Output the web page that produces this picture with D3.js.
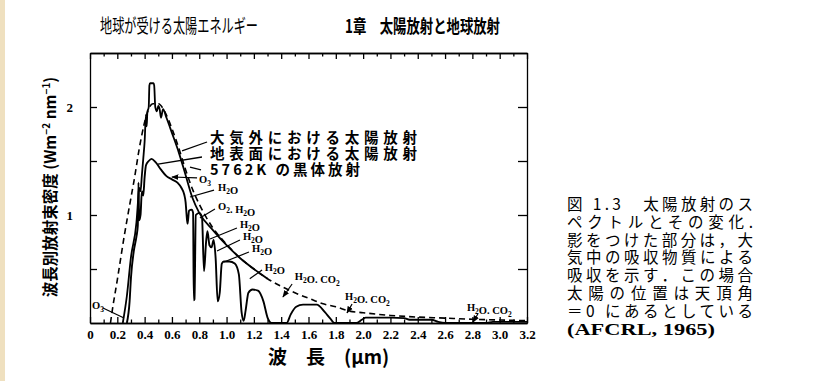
<!DOCTYPE html>
<html>
<head>
<meta charset="utf-8">
<script src="https://cdn.jsdelivr.net/npm/d3@7"></script>
<style>
body { margin: 0; background: #fff; }
svg { display: block; }
</style>
</head>
<body>
<div id="chart"></div>
<script>
'use strict';

// solar spectra (wavelength in um, W m-2 nm-1)
var extraWl  = [0.24, 0.27, 0.30, 0.34, 0.355, 0.36, 0.37, 0.38, 0.39, 0.40, 0.41, 0.415, 0.42, 0.43, 0.435, 0.44, 0.465, 0.47, 0.478, 0.49, 0.50, 0.51, 0.52, 0.535, 0.56, 0.60, 0.65, 0.70, 0.75, 0.80, 0.90, 1.00, 1.10, 1.20, 1.30];
var extraVal = [0, 0.25, 0.61, 0.93, 1.18, 1.25, 1.22, 1.37, 1.52, 1.68, 1.93, 1.82, 1.95, 2.0, 2.2, 2.22, 2.22, 2.2, 2.0, 1.96, 2.01, 1.98, 1.9, 1.98, 1.9, 1.76, 1.58, 1.37, 1.16, 1.02, 0.86, 0.72, 0.6, 0.5, 0.41];

var bodyWl  = [0.15, 0.16, 0.20, 0.25, 0.30, 0.32, 0.37, 0.42, 0.46, 0.50, 0.55, 0.60, 0.65, 0.70, 0.75, 0.80, 0.90, 1.00, 1.10, 1.20, 1.30, 1.40, 1.50, 1.60, 1.70, 1.80, 1.90, 2.00, 2.20, 2.40, 2.60, 2.80, 3.00, 3.20];
var bodyVal = [0, 0.09, 0.4, 0.8, 1.16, 1.3, 1.68, 1.95, 2.03, 2.03, 1.95, 1.8, 1.62, 1.42, 1.24, 1.1, 0.88, 0.73, 0.6, 0.5, 0.41, 0.34, 0.28, 0.23, 0.18, 0.15, 0.11, 0.095, 0.07, 0.055, 0.045, 0.035, 0.028, 0.022];

var groundWl  = [0.27, 0.29, 0.30, 0.32, 0.34, 0.35, 0.355, 0.36, 0.37, 0.38, 0.39, 0.40, 0.41, 0.43, 0.45, 0.48, 0.52, 0.56, 0.60, 0.64, 0.67, 0.69, 0.70, 0.71, 0.715, 0.725, 0.745, 0.755, 0.76, 0.765, 0.775, 0.80, 0.82, 0.835, 0.85, 0.86, 0.875, 0.89, 0.905, 0.92, 0.935, 0.95, 0.965, 0.98, 1.02, 1.06, 1.09, 1.11, 1.125, 1.14, 1.16, 1.19, 1.23, 1.27, 1.30, 1.33, 1.44, 1.47, 1.51, 1.56, 1.66, 1.72, 1.76, 1.79, 1.95, 1.99, 2.02, 2.20, 2.30, 2.34, 2.50, 2.55, 2.60, 2.90, 2.95, 3.20];
var groundVal = [0, 0.2, 0.42, 0.66, 0.8, 0.9, 1.3, 0.95, 1.0, 1.22, 1.18, 1.35, 1.46, 1.5, 1.52, 1.49, 1.42, 1.36, 1.33, 1.3, 1.25, 1.19, 1.12, 0.96, 0.92, 1.04, 1.05, 1.02, 0.21, 0.22, 1.0, 1.02, 0.98, 0.48, 0.75, 0.85, 0.72, 0.7, 0.77, 0.6, 0.2, 0.28, 0.55, 0.57, 0.57, 0.55, 0.45, 0.1, 0.02, 0.12, 0.28, 0.31, 0.3, 0.2, 0.05, 0, 0, 0.08, 0.15, 0.17, 0.17, 0.1, 0.04, 0, 0, 0.03, 0.05, 0.05, 0.045, 0.03, 0.03, 0.01, 0, 0, 0.01, 0.01];

var xTicks = [0, 0.2, 0.4, 0.6, 0.8, 1.0, 1.2, 1.4, 1.6, 1.8, 2.0, 2.2, 2.4, 2.6, 2.8, 3.0, 3.2];
var xTickLabels = ['0', '0.2', '0.4', '0.6', '0.8', '1.0', '1.2', '1.4', '1.6', '1.8', '2.0', '2.2', '2.4', '2.6', '2.8', '3.0', '3.2'];
var xMinor = [0.1, 0.3, 0.5, 0.7, 0.9, 1.1, 1.3, 1.5, 1.7, 1.9, 2.1, 2.3, 2.5, 2.7, 2.9, 3.1];
var yTicks = [0.5, 1, 1.5, 2];
var yTickLabels = ['', '1', '', '2'];

var legendTexts = ['大気外における太陽放射', '地表面における太陽放射', '5762K の黒体放射'];
var captionLines = ['図 1.3　太陽放射のス', 'ペクトルとその変化.', '影をつけた部分は，大', '気中の吸収物質による', '吸収を示す．この場合', '太陽の位置は天頂角', '＝0 にあるとしている', '(AFCRL, 1965)'];

var width = 826, height = 381;

var svg = d3.select('#chart').append('svg')
    .attr('width', width)
    .attr('height', height);

// beige scan edge
svg.append('rect').attr('x', 0).attr('y', 0).attr('width', 5).attr('height', height).attr('fill', '#efe0bf');

var x = d3.scaleLinear().domain([0, 3.2]).range([90, 527]);
var y = d3.scaleLinear().domain([0, 2.5]).range([323, 53]);

var serif = '"Liberation Serif", "DejaVu Serif", serif';
var jp = '"Noto Sans CJK JP", "Noto Sans", sans-serif';

// titles
svg.append('text').attr('x', 100).attr('y', 33)
    .attr('font-family', jp).attr('font-size', 19)
    .attr('textLength', 158).attr('lengthAdjust', 'spacingAndGlyphs')
    .text('地球が受ける太陽エネルギー');
svg.append('text').attr('x', 345).attr('y', 33)
    .attr('font-family', jp).attr('font-size', 18).attr('font-weight', 'bold')
    .attr('textLength', 155).attr('lengthAdjust', 'spacingAndGlyphs')
    .text('1章　太陽放射と地球放射');

// axes
function styleAxis(g) {
    g.selectAll('path, line').attr('stroke', '#000').attr('stroke-width', 1.3);
    g.selectAll('text').attr('font-family', serif).attr('font-size', 13)
        .attr('font-weight', 'bold').attr('fill', '#000');
}

svg.append('g').attr('transform', 'translate(0,' + y(0) + ')')
    .call(d3.axisBottom(x).tickValues(xTicks)
        .tickFormat(function(d, i) { return xTickLabels[i]; })
        .tickSizeInner(-6).tickSizeOuter(0).tickPadding(7))
    .call(styleAxis);
svg.append('g').attr('transform', 'translate(0,' + y(0) + ')')
    .call(d3.axisBottom(x).tickValues(xMinor).tickFormat('')
        .tickSizeInner(-3.5).tickSizeOuter(0))
    .call(styleAxis);
svg.append('g').attr('transform', 'translate(0,' + y(2.5) + ')')
    .call(d3.axisTop(x).tickValues(xTicks).tickFormat('')
        .tickSizeInner(-6).tickSizeOuter(0))
    .call(styleAxis);
svg.append('g').attr('transform', 'translate(0,' + y(2.5) + ')')
    .call(d3.axisTop(x).tickValues(xMinor).tickFormat('')
        .tickSizeInner(-3.5).tickSizeOuter(0))
    .call(styleAxis);
svg.append('g').attr('transform', 'translate(' + x(0) + ',0)')
    .call(d3.axisLeft(y).tickValues(yTicks)
        .tickFormat(function(d, i) { return yTickLabels[i]; })
        .tickSizeInner(-7).tickSizeOuter(0).tickPadding(17))
    .call(styleAxis);
svg.append('g').attr('transform', 'translate(' + x(3.2) + ',0)')
    .call(d3.axisRight(y).tickValues(yTicks).tickFormat('')
        .tickSizeInner(-9).tickSizeOuter(0))
    .call(styleAxis);

// curves
var line = d3.line()
    .x(function(d) { return x(d[0]); })
    .y(function(d) { return y(d[1]); })
    .curve(d3.curveMonotoneX);

function pairs(wl, val) {
    return wl.map(function(w, i) { return [w, val[i]]; });
}

svg.append('path').datum(pairs(bodyWl, bodyVal))
    .attr('d', line).attr('fill', 'none').attr('stroke', '#000')
    .attr('stroke-width', 1.6).attr('stroke-dasharray', '6,4');
svg.append('path').datum(pairs(extraWl, extraVal))
    .attr('d', line).attr('fill', 'none').attr('stroke', '#000')
    .attr('stroke-width', 1.8);
svg.append('path').datum(pairs(groundWl, groundVal))
    .attr('d', line).attr('fill', 'none').attr('stroke', '#000')
    .attr('stroke-width', 1.9);

// arrow marker
svg.append('defs').append('marker')
    .attr('id', 'arr').attr('viewBox', '0 0 10 10')
    .attr('refX', 9).attr('refY', 5)
    .attr('markerWidth', 6).attr('markerHeight', 6)
    .attr('orient', 'auto')
    .append('path').attr('d', 'M0,1L10,5L0,9z').attr('fill', '#000');

// legend lines with leaders (positions in data units)
var legendPos = [
    {tx: 0.879, ty: 1.667, from: [0.857, 1.676], to: [0.674, 1.593]},
    {tx: 0.879, ty: 1.519, from: [0.820, 1.537], to: [0.498, 1.472]},
    {tx: 0.879, ty: 1.370, from: [0.813, 1.417], to: [0.732, 1.444]}
];
var legendLen = [207, 207, 150];

legendPos.forEach(function(p, i) {
    svg.append('line')
        .attr('x1', x(p.from[0])).attr('y1', y(p.from[1]))
        .attr('x2', x(p.to[0])).attr('y2', y(p.to[1]))
        .attr('stroke', '#000').attr('stroke-width', 1.3);
    svg.append('text')
        .attr('x', x(p.tx)).attr('y', y(p.ty))
        .attr('font-family', jp).attr('font-size', 14.5).attr('font-weight', 'bold')
        .attr('textLength', legendLen[i]).attr('lengthAdjust', 'spacing')
        .text(legendTexts[i]);
});

// absorber labels
var notes = [
    {t: 'O3', tx: 0.798, ty: 1.296, from: [0.784, 1.343], to: [0.600, 1.352], arrow: true},
    {t: 'H2O', tx: 0.937, ty: 1.222, from: [0.908, 1.231], to: [0.732, 1.167]},
    {t: 'O2. H2O', tx: 0.937, ty: 1.046, from: [0.915, 1.056], to: [0.805, 0.972]},
    {t: 'H2O', tx: 1.098, ty: 0.88, from: [1.076, 0.88], to: [0.879, 0.778]},
    {t: 'H2O', tx: 1.12, ty: 0.77, from: [1.098, 0.769], to: [0.930, 0.667]},
    {t: 'H2O', tx: 1.186, ty: 0.657, from: [1.164, 0.657], to: [0.981, 0.565]},
    {t: 'H2O', tx: 1.28, ty: 0.481, from: [1.26, 0.49], to: [1.17, 0.41]},
    {t: 'H2O. CO2', tx: 1.50, ty: 0.40, from: [1.48, 0.361], to: [1.413, 0.241], arrow: true},
    {t: 'H2O. CO2', tx: 1.867, ty: 0.213, from: [1.919, 0.176], to: [1.882, 0.093], arrow: true},
    {t: 'H2O. CO2', tx: 2.76, ty: 0.111, from: [2.84, 0.083], to: [2.805, 0.009], arrow: true},
    {t: 'O3', tx: 0.015, ty: 0.13, from: [0.095, 0.139], to: [0.249, 0.046]}
];

notes.forEach(function(n) {
    var l = svg.append('line')
        .attr('x1', x(n.from[0])).attr('y1', y(n.from[1]))
        .attr('x2', x(n.to[0])).attr('y2', y(n.to[1]))
        .attr('stroke', '#000').attr('stroke-width', 1.2);
    if (n.arrow) l.attr('marker-end', 'url(#arr)');
    var t = svg.append('text')
        .attr('x', x(n.tx)).attr('y', y(n.ty))
        .attr('font-family', serif).attr('font-size', 10.5).attr('font-weight', 'bold');
    // digits become subscripts
    n.t.split(/(\d)/).forEach(function(part) {
        if (part === '') return;
        if (/\d/.test(part)) {
            t.append('tspan').attr('font-size', 7.5).attr('dy', 3).text(part);
            t.append('tspan').attr('dy', -3).text('');
        } else {
            t.append('tspan').text(part);
        }
    });
});

// axis titles
svg.append('text').attr('x', 268).attr('y', 364)
    .attr('font-family', jp).attr('font-size', 19).attr('font-weight', 'bold')
    .text('波　長　(μm)');

var yl = svg.append('text')
    .attr('transform', 'translate(56,187) rotate(-90)')
    .attr('text-anchor', 'middle')
    .attr('font-family', jp).attr('font-size', 15.5).attr('font-weight', 'bold');
yl.append('tspan').text('波長別放射束密度 (Wm');
yl.append('tspan').attr('font-size', 10).attr('dy', -6).text('−2');
yl.append('tspan').attr('dy', 6).text(' nm');
yl.append('tspan').attr('font-size', 10).attr('dy', -6).text('−1');
yl.append('tspan').attr('dy', 6).text(')');

// caption
var cap = svg.append('g');
captionLines.forEach(function(s, i) {
    var last = i === captionLines.length - 1;
    cap.append('text')
        .attr('x', 567).attr('y', 210 + i * 17.8)
        .attr('font-family', last ? serif : jp)
        .attr('font-size', last ? 17 : 15.5)
        .attr('font-weight', last ? 'bold' : 'normal')
        .attr('textLength', last ? 148 : 186)
        .attr('lengthAdjust', last ? 'spacingAndGlyphs' : 'spacing')
        .text(s);
});
</script>
</body>
</html>
